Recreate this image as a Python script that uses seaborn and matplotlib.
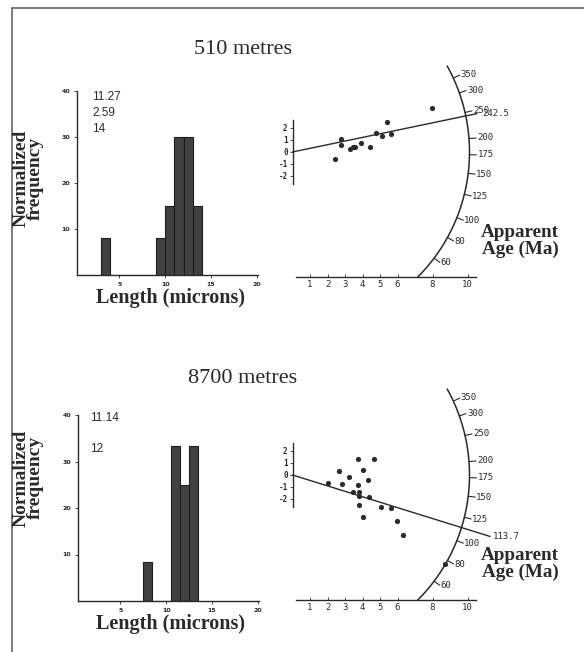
import numpy as np
import pandas as pd
import matplotlib
matplotlib.use('Agg')
import matplotlib.pyplot as plt
from matplotlib.lines import Line2D
import seaborn as sns

# Track length histograms (normalized frequency per 1 micron bin)
top_len_centres = [3.5, 9.5, 10.5, 11.5, 12.5, 13.5]
top_len_freq = [8, 8, 15, 30, 30, 15]
bot_len_centres = [8, 11, 12, 13]
bot_len_freq = [8.3, 33.3, 25, 33.3]
top_stats = ['11.27', '2.59', '14']
bot_stats = ['11.14', '', '12']

# Radial plot points: precision (x) and standardized estimate (y)
top_prec = [2.43, 2.75, 2.75, 3.29, 3.44, 3.57, 3.91, 4.43, 4.77, 5.10, 5.38, 5.61, 7.99]
top_std = [-0.61, 1.06, 0.58, 0.22, 0.39, 0.44, 0.78, 0.39, 1.56, 1.33, 2.47, 1.50, 3.64]
bot_prec = [2.05, 2.66, 2.81, 3.25, 3.47, 3.72, 3.76, 3.82, 3.82, 3.82, 4.05, 4.05,
            4.30, 4.39, 4.66, 5.04, 5.61, 5.99, 6.33, 8.71]
bot_std = [-0.64, 0.33, -0.78, -0.19, -1.44, 1.31, -0.83, -1.44, -1.75, -2.50, 0.42, -3.47,
           -0.42, -1.81, 1.31, -2.69, -2.78, -3.81, -5.00, -7.42]
top_central = 242.5
bot_central = 113.7
age_ticks = [60, 80, 100, 125, 150, 175, 200, 250, 300, 350]
ref_age = 179
prec_ticks = [1, 2, 3, 4, 5, 6, 8, 10]
titles = ['510 metres', '8700 metres']

W, H = 584, 652
ink = '#2a2a2a'
PX, PY = 17.5, 12.0   # pixels per radial-plot unit (x, y)
R = 177.0             # arc radius in pixels

sns.set_theme(style='white')
plt.rcParams['font.family'] = ['DejaVu Sans']
serif = 'Liberation Serif'
mono = 'DejaVu Sans Mono'

fig = plt.figure(figsize=(W / 100, H / 100), dpi=100)


def fx(px):
    return px / W


def fy(py):
    return 1 - py / H


def hist_panel(rect, centres, freq, brange, stats, stat_pos):
    ax = fig.add_axes(rect)
    ax.set_facecolor('none')
    df = pd.DataFrame({'length': centres, 'freq': freq})
    sns.histplot(data=df, x='length', weights='freq', binwidth=1, binrange=brange, ax=ax,
                 color='#414141', edgecolor='#1e1e1e', linewidth=0.8, alpha=1)
    ax.set_xlim(0.4, 20.1)
    ax.set_ylim(0, 40)
    sns.despine(ax=ax)
    for s in ['left', 'bottom']:
        ax.spines[s].set_color(ink)
        ax.spines[s].set_linewidth(1.0)
    ax.set_xticks([5, 10, 15, 20])
    ax.set_yticks([10, 20, 30, 40])
    ax.tick_params(axis='both', direction='out', length=2, width=0.6, color=ink,
                   labelsize=4.5, labelcolor=ink, pad=3, left=True, bottom=True)
    for lab in ax.get_xticklabels() + ax.get_yticklabels():
        lab.set_fontweight('bold')
    ax.set_xlabel('')
    ax.set_ylabel('')
    for txt, (x, y) in zip(stats, stat_pos):
        fig.text(fx(x), fy(y), txt, fontsize=8.5, color=ink, va='center', ha='left',
                 family='Liberation Sans')
    return ax


def radial_panel(rect, prec, std, central, line_end, label_x):
    ax = fig.add_axes(rect)
    ax.set_facecolor('none')
    ax.set_xlim(-0.5, 12)
    ax.set_ylim(-10.42, 7.6)
    df = pd.DataFrame({'precision': prec, 'std_est': std})
    sns.scatterplot(data=df, x='precision', y='std_est', ax=ax, color=ink, s=14,
                    linewidth=0, legend=False)

    # line of the central age, through the origin
    slope = np.log(central / ref_age)
    ax.plot([0, line_end], [0, slope * line_end], color=ink, lw=1.0)
    ax.text(label_x, slope * line_end, f'{central}', family=mono, fontsize=6.5,
            color=ink, ha='left', va='center')

    # age arc (circle in pixel space)
    th_lo = np.arcsin(-10.42 * PY / R)
    th_hi = np.arcsin(7.17 * PY / R)
    th = np.linspace(th_lo, th_hi, 200)
    ax.plot(R * np.cos(th) / PX, R * np.sin(th) / PY, color=ink, lw=1.1)
    for t in age_ticks:
        a = np.arctan2(np.log(t / ref_age) * PY, PX)
        ax.plot([R * np.cos(a) / PX, (R + 7) * np.cos(a) / PX],
                [R * np.sin(a) / PY, (R + 7) * np.sin(a) / PY], color=ink, lw=0.8)
        ax.text((R + 8) * np.cos(a) / PX, (R + 8) * np.sin(a) / PY, str(t),
                family=mono, fontsize=6.5, color=ink, ha='left', va='center')

    for s in ['top', 'right']:
        ax.spines[s].set_visible(False)
    ax.spines['bottom'].set_bounds(0.2, 10.5)
    ax.spines['left'].set_position(('data', 0))
    ax.spines['left'].set_bounds(-2.7, 2.7)
    for s in ['left', 'bottom']:
        ax.spines[s].set_color(ink)
        ax.spines[s].set_linewidth(1.0)
    ax.set_xticks(prec_ticks)
    ax.set_xticklabels([str(v) for v in prec_ticks], family=mono)
    ax.set_yticks([-2, -1, 0, 1, 2])
    ax.set_yticklabels(['-2', '-1', '0', '1', '2'], family=mono)
    ax.tick_params(axis='x', direction='in', length=2, width=0.6, color=ink,
                   labelsize=6.5, labelcolor=ink, pad=2, bottom=True)
    ax.tick_params(axis='y', direction='out', length=2, width=0.6, color=ink,
                   labelsize=5.5, labelcolor=ink, pad=1.5, left=True)
    for lab in ax.get_yticklabels():
        lab.set_fontweight('bold')
    ax.set_xlabel('')
    ax.set_ylabel('')
    return ax


panels = [
    dict(hist_rect=[fx(77), fy(275), 181 / W, 184 / H],
         rad_rect=[fx(283.75), fy(277), 218.75 / W, 216.2 / H],
         centres=top_len_centres, freq=top_len_freq, brange=(3, 14),
         stats=top_stats, stat_pos=[(92, 97), (92, 113), (92, 129)],
         prec=top_prec, std=top_std, central=top_central, line_end=10.54, label_x=10.83,
         dy=0),
    dict(hist_rect=[fx(78), fy(601), 181 / W, 186 / H],
         rad_rect=[fx(283.75), fy(600), 218.75 / W, 216.2 / H],
         centres=bot_len_centres, freq=bot_len_freq, brange=(7.5, 13.5),
         stats=bot_stats, stat_pos=[(90, 418), (90, 434), (90, 449)],
         prec=bot_prec, std=bot_std, central=bot_central, line_end=11.29, label_x=11.45,
         dy=326),
]

for p, title in zip(panels, titles):
    hist_panel(p['hist_rect'], p['centres'], p['freq'], p['brange'], p['stats'], p['stat_pos'])
    radial_panel(p['rad_rect'], p['prec'], p['std'], p['central'], p['line_end'], p['label_x'])
    dy = p['dy']
    fig.text(fx(243), fy(50 + dy * 1.007), title, family=serif, fontsize=16, color=ink,
             ha='center', va='center')
    fig.text(fx(28), fy(178 + dy * 0.92), 'Normalized\nfrequency', family=serif,
             fontsize=14, fontweight='bold', color=ink, rotation=90, ha='center',
             va='center', linespacing=0.8)
    fig.text(fx(170), fy(298 + dy), 'Length (microns)', family=serif, fontsize=14.5,
             fontweight='bold', color=ink, ha='center', va='center')
    fig.text(fx(520), fy(241 + dy * 0.99), 'Apparent\nAge (Ma)', family=serif,
             fontsize=13.8, fontweight='bold', color=ink, ha='center', va='center',
             linespacing=0.95)

# scanned frame
fig.add_artist(Line2D([fx(12), fx(12)], [fy(8), 0], color='#666666', lw=1.2))
fig.add_artist(Line2D([fx(12), 1], [fy(8), fy(8)], color='#666666', lw=1.2))

fig.savefig('out.png', dpi=100, facecolor='white')
